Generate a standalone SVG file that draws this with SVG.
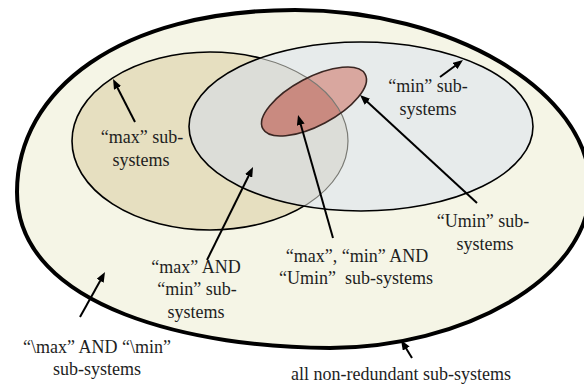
<svg xmlns="http://www.w3.org/2000/svg" width="584" height="385" viewBox="0 0 584 385">
<style>
  text { font-family: "Liberation Serif", "Times New Roman", serif; font-size: 18px; fill: #1e1e1e; text-anchor: middle; }
  .conn line { stroke: #000; stroke-width: 2; marker-end: url(#arr); }
  .edge { fill: none; stroke: #000; stroke-width: 1.6; }
</style>
<defs>
  <marker id="arr" viewBox="0 0 10 8" markerWidth="10" markerHeight="8" refX="5" refY="4" orient="auto" markerUnits="userSpaceOnUse">
    <path d="M0,0 L10,4 L0,8 Z" fill="#000"/>
  </marker>
  <ellipse id="maxE" cx="210" cy="141" rx="138" ry="89"/>
  <ellipse id="minE" cx="361" cy="126.5" rx="172" ry="84.5"/>
  <ellipse id="uminE" cx="314" cy="101.5" rx="58" ry="24" transform="rotate(-28 314 101.5)"/>
  <clipPath id="clipMin"><use href="#minE"/></clipPath>
  <clipPath id="clipMax"><use href="#maxE"/></clipPath>
</defs>
<rect width="584" height="385" fill="#ffffff"/>

<g id="all-nonredundant">
  <path d="M17,192 C17,90 120,10 295,10 C450,10 590,90 590,188 C590,280 460,348 330,348 C200,348 17,310 17,192 Z" fill="#f5f5e6" stroke="#000" stroke-width="4"/>
  <text x="401" y="380">all non-redundant sub-systems</text>
</g>

<g id="not-max-not-min">
  <text x="97" y="353">“\max” AND “\min”</text>
  <text x="97" y="375">sub-systems</text>
</g>

<g id="max">
  <use href="#maxE" fill="#e6dfc0" stroke="#000" stroke-width="1.6"/>
  <text x="142" y="143">“max” sub-</text>
  <text x="141" y="166">systems</text>
</g>

<g id="min">
  <use href="#minE" fill="#e7ebeb" stroke="none"/>
  <text x="428" y="92">“min” sub-</text>
  <text x="428" y="115">systems</text>
</g>

<g id="max-and-min">
  <use href="#maxE" fill="#dcddd8" clip-path="url(#clipMin)"/>
  <text x="196" y="273">“max” AND</text>
  <text x="197" y="295">“min” sub-</text>
  <text x="196" y="318">systems</text>
</g>

<g id="umin">
  <use href="#uminE" fill="#d9a79f"/>
  <use href="#uminE" fill="#c98a80" clip-path="url(#clipMax)"/>
  <use href="#maxE" fill="none" stroke="#7a7a74" stroke-width="1.2" clip-path="url(#clipMin)"/>
  <use href="#minE" class="edge"/>
  <use href="#uminE" fill="none" stroke="#3a2622" stroke-width="1.6"/>
  <text x="483" y="227">“Umin” sub-</text>
  <text x="485" y="250">systems</text>
</g>

<g id="max-min-umin">
  <text x="357" y="262">“max”, “min” AND</text>
  <text x="356" y="284" xml:space="preserve">“Umin”  sub-systems</text>
</g>

<g id="connectors" class="conn">
  <line x1="135" y1="122" x2="115.3" y2="83.5"/>
  <line x1="440" y1="77" x2="459" y2="63"/>
  <line x1="207" y1="260" x2="250.8" y2="171.5"/>
  <line x1="333" y1="238" x2="299.4" y2="119.8"/>
  <line x1="477" y1="203" x2="363.7" y2="98.4"/>
  <line x1="80" y1="317" x2="102.6" y2="276.4"/>
  <line x1="412" y1="358" x2="403.6" y2="344.3"/>
</g>
</svg>
